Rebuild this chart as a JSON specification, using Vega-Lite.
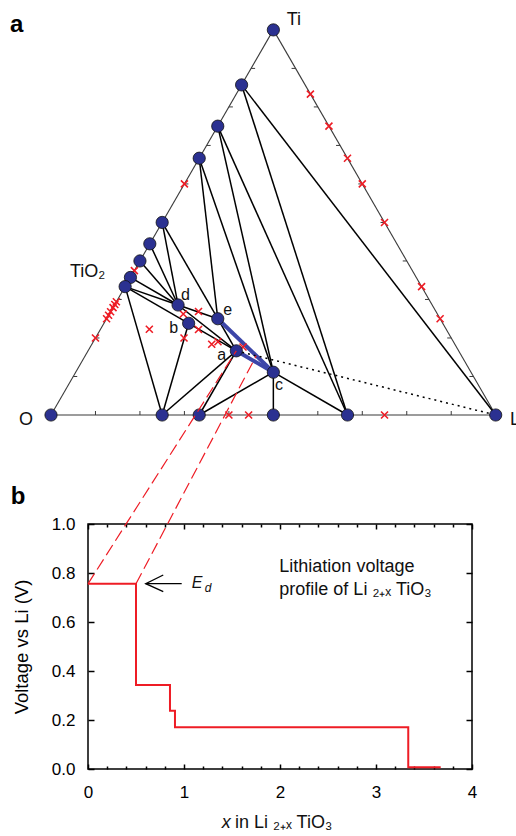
{
  "$schema": "https://vega.github.io/schema/vega-lite/v6.json",
  "width": 384,
  "height": 245,
  "autosize": {"type": "none"},
  "padding": {"left": 88, "top": 524, "right": 44, "bottom": 67},
  "background": "white",
  "config": {
    "font": "Liberation Sans",
    "view": {"stroke": "black", "strokeWidth": 1.5},
    "axis": {"domain": false, "grid": false, "tickColor": "black", "tickWidth": 1.5, "labelColor": "black", "labelFont": "Liberation Sans", "labelFontSize": 17, "titleFont": "Liberation Sans", "titleFontSize": 18.5, "titleFontWeight": "normal", "titleColor": "black", "labelFlush": false, "labelOverlap": false, "labelBound": false}
  },
  "datasets": {
    "compounds": [
      {"name": "O", "x": 0, "y": 0},
      {"name": "Li", "x": 1, "y": 0},
      {"name": "Ti", "x": 0.5, "y": 0.866},
      {"name": "Ti6O", "x": 0.4286, "y": 0.7423},
      {"name": "Ti3O", "x": 0.375, "y": 0.6495},
      {"name": "Ti2O", "x": 0.3333, "y": 0.5774},
      {"name": "TiO", "x": 0.25, "y": 0.433},
      {"name": "Ti4O5", "x": 0.2222, "y": 0.3849},
      {"name": "Ti2O3", "x": 0.2, "y": 0.3464},
      {"name": "Ti5O9", "x": 0.1786, "y": 0.3093},
      {"name": "TiO2", "x": 0.1667, "y": 0.2887},
      {"name": "LiTi2O4", "x": 0.2857, "y": 0.2474},
      {"name": "Li4Ti5O12", "x": 0.3095, "y": 0.2062},
      {"name": "LiTiO2", "x": 0.375, "y": 0.2165},
      {"name": "Li2TiO3", "x": 0.4167, "y": 0.1443},
      {"name": "Li4TiO4", "x": 0.5, "y": 0.0962},
      {"name": "LiO3", "x": 0.25, "y": 0},
      {"name": "LiO2", "x": 0.3333, "y": 0},
      {"name": "Li2O2", "x": 0.5, "y": 0},
      {"name": "Li2O", "x": 0.6667, "y": 0}
    ],
    "edges": [
      {"a": "O", "b": "Li"}, {"a": "Li", "b": "Ti"}, {"a": "Ti", "b": "O"}
    ],
    "ties": [
      {"a": "Ti6O", "b": "Li"}, {"a": "Ti6O", "b": "Li2O"},
      {"a": "Ti3O", "b": "Li4TiO4"}, {"a": "Ti3O", "b": "Li2O"},
      {"a": "Ti2O", "b": "LiTiO2"}, {"a": "Ti2O", "b": "Li4TiO4"},
      {"a": "TiO", "b": "LiTi2O4"}, {"a": "TiO", "b": "LiTiO2"},
      {"a": "Ti4O5", "b": "LiTi2O4"}, {"a": "Ti2O3", "b": "LiTi2O4"},
      {"a": "Ti5O9", "b": "LiTi2O4"}, {"a": "TiO2", "b": "LiTi2O4"},
      {"a": "TiO2", "b": "Li4Ti5O12"}, {"a": "TiO2", "b": "LiO3"},
      {"a": "LiTi2O4", "b": "LiTiO2"}, {"a": "LiTi2O4", "b": "Li2TiO3"},
      {"a": "Li4Ti5O12", "b": "Li2TiO3"}, {"a": "Li4Ti5O12", "b": "LiO3"},
      {"a": "Li2TiO3", "b": "LiO3"}, {"a": "Li2TiO3", "b": "LiO2"},
      {"a": "Li4TiO4", "b": "LiO2"}, {"a": "Li4TiO4", "b": "Li2O2"},
      {"a": "Li4TiO4", "b": "Li2O"}, {"a": "LiTiO2", "b": "Li2TiO3"}
    ],
    "highlight": [
      {"a": "LiTiO2", "b": "Li4TiO4"}, {"a": "Li2TiO3", "b": "Li4TiO4"}
    ],
    "path": [
      {"a": "Li2TiO3", "b": "Li"}
    ],
    "edgeTicks": [
      {"edge": "bottom", "x": 0.1, "y": 0}, {"edge": "bottom", "x": 0.2, "y": 0}, {"edge": "bottom", "x": 0.3, "y": 0},
      {"edge": "bottom", "x": 0.4, "y": 0}, {"edge": "bottom", "x": 0.5, "y": 0}, {"edge": "bottom", "x": 0.6, "y": 0},
      {"edge": "bottom", "x": 0.7, "y": 0}, {"edge": "bottom", "x": 0.8, "y": 0}, {"edge": "bottom", "x": 0.9, "y": 0},
      {"edge": "left", "x": 0.05, "y": 0.0866}, {"edge": "left", "x": 0.1, "y": 0.1732}, {"edge": "left", "x": 0.15, "y": 0.2598},
      {"edge": "left", "x": 0.2, "y": 0.3464}, {"edge": "left", "x": 0.25, "y": 0.433}, {"edge": "left", "x": 0.3, "y": 0.5196},
      {"edge": "left", "x": 0.35, "y": 0.6062}, {"edge": "left", "x": 0.4, "y": 0.6928}, {"edge": "left", "x": 0.45, "y": 0.7794},
      {"edge": "right", "x": 0.95, "y": 0.0866}, {"edge": "right", "x": 0.9, "y": 0.1732}, {"edge": "right", "x": 0.85, "y": 0.2598},
      {"edge": "right", "x": 0.8, "y": 0.3464}, {"edge": "right", "x": 0.75, "y": 0.433}, {"edge": "right", "x": 0.7, "y": 0.5196},
      {"edge": "right", "x": 0.65, "y": 0.6062}, {"edge": "right", "x": 0.6, "y": 0.6928}, {"edge": "right", "x": 0.55, "y": 0.7794}
    ],
    "crosses": [
      {"x": 0.5833, "y": 0.7217}, {"x": 0.625, "y": 0.6495}, {"x": 0.6667, "y": 0.5774}, {"x": 0.7, "y": 0.5196},
      {"x": 0.75, "y": 0.433}, {"x": 0.8333, "y": 0.2887}, {"x": 0.875, "y": 0.2165},
      {"x": 0.3, "y": 0.5196}, {"x": 0.1875, "y": 0.3248}, {"x": 0.147, "y": 0.2546}, {"x": 0.1435, "y": 0.2485},
      {"x": 0.1395, "y": 0.2416}, {"x": 0.134, "y": 0.2321}, {"x": 0.1295, "y": 0.2243}, {"x": 0.125, "y": 0.2165},
      {"x": 0.1, "y": 0.1732},
      {"x": 0.2211, "y": 0.1927}, {"x": 0.2975, "y": 0.2271}, {"x": 0.3317, "y": 0.2327}, {"x": 0.3317, "y": 0.1923},
      {"x": 0.2991, "y": 0.1731}, {"x": 0.3614, "y": 0.159}, {"x": 0.3755, "y": 0.1648}, {"x": 0.4318, "y": 0.1529},
      {"x": 0.4, "y": 0}, {"x": 0.4444, "y": 0}, {"x": 0.75, "y": 0}
    ],
    "projection": [
      {"x": 0.0832, "y": -0.3796, "x2": 0.4167, "y2": 0.1443},
      {"x": 0.1911, "y": -0.3796, "x2": 0.4615, "y2": 0.1332}
    ],
    "labelsBig": [
      {"text": "Ti", "x": 0.53, "y": 0.877},
      {"text": "TiO₂", "x": 0.0427, "y": 0.3096},
      {"text": "Li", "x": 1.0322, "y": -0.0214}
    ],
    "labelsO": [
      {"text": "O", "x": -0.0405, "y": -0.0214}
    ],
    "labelsSmall": [
      {"text": "a", "x": 0.374, "y": 0.1237},
      {"text": "b", "x": 0.266, "y": 0.1837},
      {"text": "c", "x": 0.5037, "y": 0.0562},
      {"text": "d", "x": 0.2923, "y": 0.2586},
      {"text": "e", "x": 0.3875, "y": 0.2249}
    ],
    "panelA": [{"text": "a", "x": -0.0922, "y": 0.8613}],
    "steps": [
      {"x": 0, "v": 0.756}, {"x": 0.5, "v": 0.343}, {"x": 0.854, "v": 0.238},
      {"x": 0.906, "v": 0.17}, {"x": 3.336, "v": 0.007}, {"x": 3.674, "v": 0.007}
    ],
    "arrow": [
      {"part": "shaft", "i": 0, "x": 0.601, "v": 0.7563}, {"part": "shaft", "i": 1, "x": 0.976, "v": 0.7563},
      {"part": "head", "i": 0, "x": 0.784, "v": 0.7918}, {"part": "head", "i": 1, "x": 0.601, "v": 0.7563},
      {"part": "head", "i": 2, "x": 0.784, "v": 0.7237}
    ],
    "note": [
      {"text": "Lithiation voltage", "x": 1.993, "v": 0.805},
      {"text": "profile of Li ₂₊ₓ TiO₃", "x": 1.993, "v": 0.71}
    ],
    "edE": [{"text": "E", "x": 1.08, "v": 0.7376}],
    "edD": [{"text": "d", "x": 1.215, "v": 0.7237}],
    "titleX": [{"text": "x", "x": 1.393, "v": -0.2408}],
    "titleRest": [{"text": "in Li ₂₊ₓ TiO₃", "x": 1.531, "v": -0.2408}],
    "panelB": [{"text": "b", "x": -0.805, "v": 1.082}]
  },
  "layer": [
    {
      "encoding": {
        "x": {"field": "x", "type": "quantitative", "scale": {"domain": [0.083202, 0.946702], "nice": false, "zero": false}, "axis": null},
        "y": {"field": "y", "type": "quantitative", "scale": {"domain": [-0.796042, -0.245109], "nice": false, "zero": false}, "axis": null}
      },
      "layer": [
        {
          "data": {"name": "edges"},
          "transform": [
            {"lookup": "a", "from": {"data": {"name": "compounds"}, "key": "name", "fields": ["x", "y"]}, "as": ["x", "y"]},
            {"lookup": "b", "from": {"data": {"name": "compounds"}, "key": "name", "fields": ["x", "y"]}, "as": ["xb", "yb"]}
          ],
          "mark": {"type": "rule", "color": "#3a3a3a", "strokeWidth": 1.1},
          "encoding": {"x2": {"field": "xb"}, "y2": {"field": "yb"}}
        },
        {
          "data": {"name": "edgeTicks"},
          "transform": [{"filter": "datum.edge === 'bottom'"}],
          "mark": {"type": "point", "shape": "M0,0L0,-1", "size": 64, "filled": false, "color": "#3a3a3a", "strokeWidth": 1, "opacity": 1}
        },
        {
          "data": {"name": "edgeTicks"},
          "transform": [{"filter": "datum.edge === 'left'"}],
          "mark": {"type": "point", "shape": "M0,0L1,0", "size": 64, "filled": false, "color": "#3a3a3a", "strokeWidth": 1, "opacity": 1}
        },
        {
          "data": {"name": "edgeTicks"},
          "transform": [{"filter": "datum.edge === 'right'"}],
          "mark": {"type": "point", "shape": "M0,0L-1,0", "size": 64, "filled": false, "color": "#3a3a3a", "strokeWidth": 1, "opacity": 1}
        },
        {
          "data": {"name": "ties"},
          "transform": [
            {"lookup": "a", "from": {"data": {"name": "compounds"}, "key": "name", "fields": ["x", "y"]}, "as": ["x", "y"]},
            {"lookup": "b", "from": {"data": {"name": "compounds"}, "key": "name", "fields": ["x", "y"]}, "as": ["xb", "yb"]}
          ],
          "mark": {"type": "rule", "color": "black", "strokeWidth": 1.5},
          "encoding": {"x2": {"field": "xb"}, "y2": {"field": "yb"}}
        },
        {
          "data": {"name": "highlight"},
          "transform": [
            {"lookup": "a", "from": {"data": {"name": "compounds"}, "key": "name", "fields": ["x", "y"]}, "as": ["x", "y"]},
            {"lookup": "b", "from": {"data": {"name": "compounds"}, "key": "name", "fields": ["x", "y"]}, "as": ["xb", "yb"]}
          ],
          "mark": {"type": "rule", "color": "#3c45a8", "strokeWidth": 4},
          "encoding": {"x2": {"field": "xb"}, "y2": {"field": "yb"}}
        },
        {
          "data": {"name": "path"},
          "transform": [
            {"lookup": "a", "from": {"data": {"name": "compounds"}, "key": "name", "fields": ["x", "y"]}, "as": ["x", "y"]},
            {"lookup": "b", "from": {"data": {"name": "compounds"}, "key": "name", "fields": ["x", "y"]}, "as": ["xb", "yb"]}
          ],
          "mark": {"type": "rule", "color": "black", "strokeWidth": 1.5, "strokeDash": [2, 4]},
          "encoding": {"x2": {"field": "xb"}, "y2": {"field": "yb"}}
        },
        {
          "data": {"name": "crosses"},
          "mark": {"type": "point", "shape": "M-1,-1L1,1M-1,1L1,-1", "size": 49, "filled": false, "color": "#ee1c25", "strokeWidth": 1.6, "opacity": 1}
        },
        {
          "data": {"name": "compounds"},
          "mark": {"type": "circle", "size": 150, "color": "#2b3191", "stroke": "#111111", "strokeWidth": 0.8, "opacity": 1}
        },
        {
          "data": {"name": "projection"},
          "mark": {"type": "rule", "color": "#ee1c25", "strokeWidth": 1.2, "strokeDash": [12, 5]},
          "encoding": {"x2": {"field": "x2"}, "y2": {"field": "y2"}}
        },
        {
          "data": {"name": "labelsBig"},
          "mark": {"type": "text", "align": "left", "baseline": "alphabetic", "fontSize": 18, "color": "#111111"},
          "encoding": {"text": {"field": "text"}}
        },
        {
          "data": {"name": "labelsO"},
          "mark": {"type": "text", "align": "right", "baseline": "alphabetic", "fontSize": 18, "color": "#111111"},
          "encoding": {"text": {"field": "text"}}
        },
        {
          "data": {"name": "labelsSmall"},
          "mark": {"type": "text", "align": "left", "baseline": "alphabetic", "fontSize": 16, "color": "#111111"},
          "encoding": {"text": {"field": "text"}}
        },
        {
          "data": {"name": "panelA"},
          "mark": {"type": "text", "align": "left", "baseline": "alphabetic", "fontSize": 24, "fontWeight": "bold", "color": "black"},
          "encoding": {"text": {"field": "text"}}
        }
      ]
    },
    {
      "layer": [
        {
          "data": {"name": "steps"},
          "mark": {"type": "line", "interpolate": "step-after", "color": "#ee1c25", "strokeWidth": 2},
          "encoding": {
            "x": {"field": "x", "type": "quantitative", "scale": {"domain": [0, 4], "nice": false, "zero": false},
                  "axis": {"orient": "bottom", "values": [0, 1, 2, 3, 4], "offset": -5, "tickSize": 5, "labelPadding": 15, "title": null}},
            "y": {"field": "v", "type": "quantitative", "scale": {"domain": [0, 1], "nice": false, "zero": false},
                  "axis": {"orient": "left", "values": [0, 0.2, 0.4, 0.6, 0.8, 1], "format": ".1f", "offset": -6, "tickSize": 6, "labelPadding": 13, "title": "Voltage vs Li (V)", "titlePadding": 20}}
          }
        },
        {
          "data": {"name": "arrow"},
          "mark": {"type": "line", "color": "black", "strokeWidth": 1.3},
          "encoding": {
            "x": {"field": "x", "type": "quantitative", "scale": {"domain": [0, 4], "nice": false, "zero": false},
                  "axis": {"orient": "bottom", "values": [0.2, 0.4, 0.6, 0.8, 1.2, 1.4, 1.6, 1.8, 2.2, 2.4, 2.6, 2.8, 3.2, 3.4, 3.6, 3.8], "offset": -3, "tickSize": 3, "labels": false, "title": null}},
            "y": {"field": "v", "type": "quantitative", "scale": {"domain": [0, 1], "nice": false, "zero": false},
                  "axis": {"orient": "right", "values": [0, 0.2, 0.4, 0.6, 0.8, 1], "offset": -6, "tickSize": 6, "labels": false, "title": null}},
            "detail": {"field": "part"},
            "order": {"field": "i"}
          }
        },
        {
          "data": {"name": "note"},
          "mark": {"type": "text", "align": "left", "baseline": "alphabetic", "fontSize": 18, "color": "#111111"},
          "encoding": {
            "x": {"field": "x", "type": "quantitative", "axis": {"orient": "top", "values": [0, 1, 2, 3, 4], "offset": -5, "tickSize": 5, "labels": false, "title": null}},
            "y": {"field": "v", "type": "quantitative", "axis": null},
            "text": {"field": "text"}
          }
        },
        {
          "data": {"name": "edE"},
          "mark": {"type": "text", "align": "left", "baseline": "alphabetic", "fontSize": 16, "fontStyle": "italic", "color": "#111111"},
          "encoding": {
            "x": {"field": "x", "type": "quantitative", "axis": {"orient": "top", "values": [0.2, 0.4, 0.6, 0.8, 1.2, 1.4, 1.6, 1.8, 2.2, 2.4, 2.6, 2.8, 3.2, 3.4, 3.6, 3.8], "offset": -3, "tickSize": 3, "labels": false, "title": null}},
            "y": {"field": "v", "type": "quantitative", "axis": null},
            "text": {"field": "text"}
          }
        },
        {
          "data": {"name": "edD"},
          "mark": {"type": "text", "align": "left", "baseline": "alphabetic", "fontSize": 12, "fontStyle": "italic", "color": "#111111"},
          "encoding": {
            "x": {"field": "x", "type": "quantitative", "axis": null},
            "y": {"field": "v", "type": "quantitative", "axis": null},
            "text": {"field": "text"}
          }
        },
        {
          "data": {"name": "titleX"},
          "mark": {"type": "text", "align": "left", "baseline": "alphabetic", "fontSize": 18, "fontStyle": "italic", "color": "#111111"},
          "encoding": {
            "x": {"field": "x", "type": "quantitative", "axis": null},
            "y": {"field": "v", "type": "quantitative", "axis": null},
            "text": {"field": "text"}
          }
        },
        {
          "data": {"name": "titleRest"},
          "mark": {"type": "text", "align": "left", "baseline": "alphabetic", "fontSize": 18, "color": "#111111"},
          "encoding": {
            "x": {"field": "x", "type": "quantitative", "axis": null},
            "y": {"field": "v", "type": "quantitative", "axis": null},
            "text": {"field": "text"}
          }
        },
        {
          "data": {"name": "panelB"},
          "mark": {"type": "text", "align": "left", "baseline": "alphabetic", "fontSize": 24, "fontWeight": "bold", "color": "black"},
          "encoding": {
            "x": {"field": "x", "type": "quantitative", "axis": null},
            "y": {"field": "v", "type": "quantitative", "axis": null},
            "text": {"field": "text"}
          }
        }
      ],
      "resolve": {"axis": {"x": "independent", "y": "independent"}}
    }
  ],
  "resolve": {"scale": {"x": "independent", "y": "independent"}}
}
